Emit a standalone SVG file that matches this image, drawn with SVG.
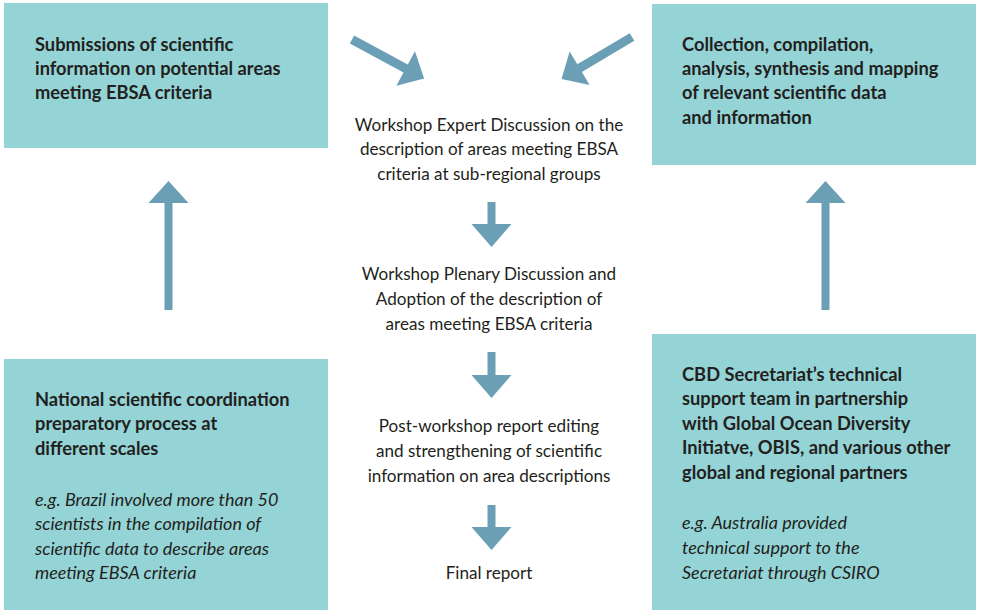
<svg xmlns="http://www.w3.org/2000/svg" width="981" height="610" viewBox="0 0 981 610">
<style>
.box{fill:#94d4d6}
.arr{fill:#6a9fb5}
.b{font-family:Lato,"Open Sans","Liberation Sans",sans-serif;font-weight:bold;font-size:18.3px;fill:#231f20}
.i{font-family:Lato,"Open Sans","Liberation Sans",sans-serif;font-style:italic;font-size:18px;fill:#231f20}
.c{font-family:Lato,"Open Sans","Liberation Sans",sans-serif;font-size:17.1px;fill:#231f20;text-anchor:middle}
</style>
<rect width="981" height="610" fill="#ffffff"/>
<g id="submissions">
<rect class="box" x="4" y="3" width="324" height="145"/>
<text class="b" x="35" y="51">Submissions of scientific</text>
<text class="b" x="35" y="75">information on potential areas</text>
<text class="b" x="35" y="99">meeting EBSA criteria</text>
</g>
<g id="collection">
<rect class="box" x="652" y="4" width="324" height="161"/>
<text class="b" x="682" y="51">Collection, compilation,</text>
<text class="b" x="682" y="75">analysis, synthesis and mapping</text>
<text class="b" x="682" y="99">of relevant scientific data</text>
<text class="b" x="682" y="124">and information</text>
</g>
<g id="national">
<rect class="box" x="4" y="359" width="324" height="251"/>
<text class="b" x="35" y="406">National scientific coordination</text>
<text class="b" x="35" y="430">preparatory process at</text>
<text class="b" x="35" y="455">different scales</text>
<text class="i" x="35" y="506">e.g. Brazil involved more than 50</text>
<text class="i" x="35" y="530">scientists in the compilation of</text>
<text class="i" x="35" y="555">scientific data to describe areas</text>
<text class="i" x="35" y="579">meeting EBSA criteria</text>
</g>
<g id="cbd">
<rect class="box" x="652" y="334" width="324" height="276"/>
<text class="b" x="682" y="381">CBD Secretariat’s technical</text>
<text class="b" x="682" y="405">support team in partnership</text>
<text class="b" x="682" y="430">with Global Ocean Diversity</text>
<text class="b" x="682" y="454">Initiatve, OBIS, and various other</text>
<text class="b" x="682" y="479">global and regional partners</text>
<text class="i" x="682" y="529">e.g. Australia provided</text>
<text class="i" x="682" y="554">technical support to the</text>
<text class="i" x="682" y="579">Secretariat through CSIRO</text>
</g>
<g id="expert">
<text class="c" x="489" y="131">Workshop Expert Discussion on the</text>
<text class="c" x="489" y="155">description of areas meeting EBSA</text>
<text class="c" x="489" y="180">criteria at sub-regional groups</text>
</g>
<g id="plenary">
<text class="c" x="489" y="280">Workshop Plenary Discussion and</text>
<text class="c" x="489" y="305">Adoption of the description of</text>
<text class="c" x="489" y="330">areas meeting EBSA criteria</text>
</g>
<g id="post">
<text class="c" x="489" y="432">Post-workshop report editing</text>
<text class="c" x="489" y="457">and strengthening of scientific</text>
<text class="c" x="489" y="482">information on area descriptions</text>
</g>
<g id="final">
<text class="c" x="489" y="579">Final report</text>
</g>
<g id="connectors">
<polygon class="arr" points="487.5,202 495.5,202 495.5,224 511.5,224 491.5,247 471.5,224 487.5,224"/>
<polygon class="arr" points="487.5,352 495.5,352 495.5,375 511.5,375 491.5,398 471.5,375 487.5,375"/>
<polygon class="arr" points="487.5,505 495.5,505 495.5,527 511.5,527 491.5,550 471.5,527 487.5,527"/>
<polygon class="arr" points="164.5,310 172.5,310 172.5,203 188.5,203 168.5,181 148.5,203 164.5,203"/>
<polygon class="arr" points="821.5,310 829.5,310 829.5,203 845.5,203 825.5,181 805.5,203 821.5,203"/>
<polygon class="arr" points="0,-4.5 61,-4.5 61,-19.5 82,0 61,19.5 61,4.5 0,4.5" transform="translate(352,39.5) rotate(28.4)"/>
<polygon class="arr" points="0,-4.5 61,-4.5 61,-19.5 82,0 61,19.5 61,4.5 0,4.5" transform="translate(632,37) rotate(149.2)"/>
</g>
</svg>
